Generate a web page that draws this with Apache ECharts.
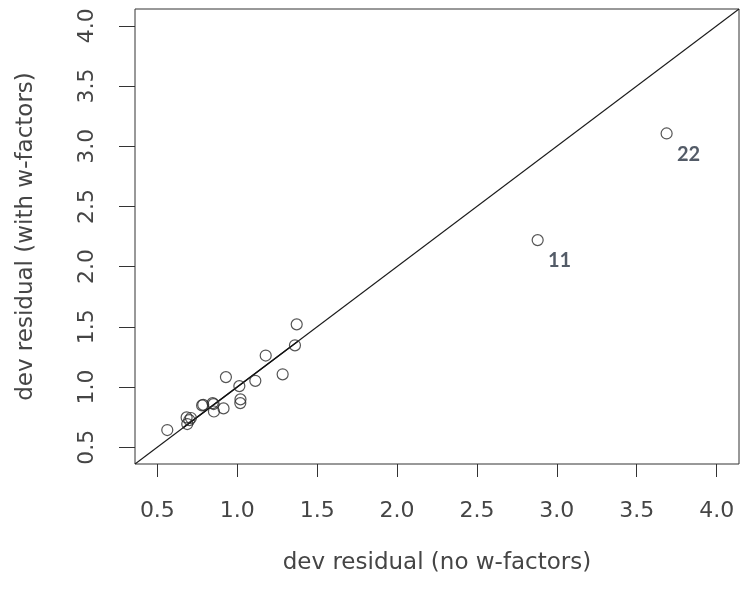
<!DOCTYPE html>
<html>
<head>
<meta charset="utf-8">
<script src="https://cdn.jsdelivr.net/npm/echarts@6/dist/echarts.min.js"></script>
<style>
  html, body { margin: 0; padding: 0; background: #fff; }
  #chart { width: 740px; height: 589px; }
</style>
</head>
<body>
<div id="chart"></div>
<script>
// deviance residuals of each observation, fitted without and with w-factors
const devNoW = [0.562, 0.683, 0.700, 0.687, 0.710, 0.780, 0.787, 0.846, 0.852, 0.854, 0.914,
                0.929, 1.013, 1.020, 1.019, 1.113, 1.178, 1.284, 1.361, 1.372, 2.880, 3.687];
const devWithW = [0.642, 0.747, 0.725, 0.692, 0.742, 0.847, 0.852, 0.866, 0.858, 0.796, 0.822,
                  1.082, 1.007, 0.897, 0.866, 1.051, 1.261, 1.105, 1.346, 1.520, 2.220, 3.106];
// observation numbers written beside the outlying points
const pointIds = ['', '', '', '', '', '', '', '', '', '', '',
                  '', '', '', '', '', '', '', '', '', '11', '22'];
// shared axis limits and tick labels
const axisMin = 0.36;
const axisMax = 4.14;
const tickValues = [0.5, 1.0, 1.5, 2.0, 2.5, 3.0, 3.5, 4.0];

const ink = '#333';
const textInk = '#454545';
const axisFont = 'DejaVu Sans';

const points = devNoW.map((x, i) => ({
  value: [x, devWithW[i]],
  label: pointIds[i] ? { show: true, formatter: pointIds[i] } : { show: false }
}));

function axisBase() {
  return {
    type: 'value',
    min: axisMin,
    max: axisMax,
    splitLine: { show: false },
    axisLine: { show: false },
    axisTick: {
      show: true,
      customValues: tickValues,
      length: 13,
      lineStyle: { color: ink, width: 1 }
    },
    nameLocation: 'middle',
    nameTextStyle: { fontFamily: axisFont, fontSize: 23, color: textInk }
  };
}

const xAxis = Object.assign(axisBase(), {
  name: 'dev residual (no w-factors)',
  nameGap: 88,
  axisLabel: {
    customValues: tickValues,
    formatter: v => v.toFixed(1),
    margin: 36,
    fontFamily: axisFont,
    fontSize: 22,
    color: textInk
  }
});

const yAxis = Object.assign(axisBase(), {
  name: 'dev residual (with w-factors)',
  nameGap: 97,
  axisLabel: {
    customValues: tickValues,
    formatter: v => v.toFixed(1),
    rotate: 90,
    margin: 37,
    fontFamily: axisFont,
    fontSize: 22,
    color: textInk
  }
});
yAxis.axisTick.length = 16;

const chart = echarts.init(document.getElementById('chart'), null, { renderer: 'canvas' });
chart.setOption({
  animation: false,
  backgroundColor: '#fff',
  grid: {
    left: 135, right: 1, top: 9, bottom: 125,
    show: true,
    borderColor: ink,
    borderWidth: 1,
    backgroundColor: 'transparent'
  },
  xAxis: xAxis,
  yAxis: yAxis,
  series: [
    {
      // identity line y = x across the whole plotting region
      type: 'line',
      data: [[axisMin, axisMin], [axisMax, axisMax]],
      showSymbol: false,
      symbol: 'none',
      lineStyle: { color: '#1a1a1a', width: 1.1 },
      silent: true,
      z: 1
    },
    {
      // fitted line over the bulk of the data, lying on the identity line
      type: 'line',
      data: [[0.66, 0.66], [1.38, 1.38]],
      showSymbol: false,
      symbol: 'none',
      lineStyle: { color: '#111', width: 1.4 },
      silent: true,
      z: 1
    },
    {
      type: 'scatter',
      data: points,
      symbol: 'circle',
      symbolSize: 11,
      itemStyle: { color: 'rgba(0,0,0,0)', borderColor: '#2a2a2a', borderWidth: 1.2 },
      label: {
        position: [28, 27],
        align: 'center',
        verticalAlign: 'middle',
        fontFamily: 'Lato',
        fontWeight: 'bold',
        fontSize: 20,
        color: '#283241'
      },
      z: 3
    }
  ]
});
</script>
</body>
</html>
